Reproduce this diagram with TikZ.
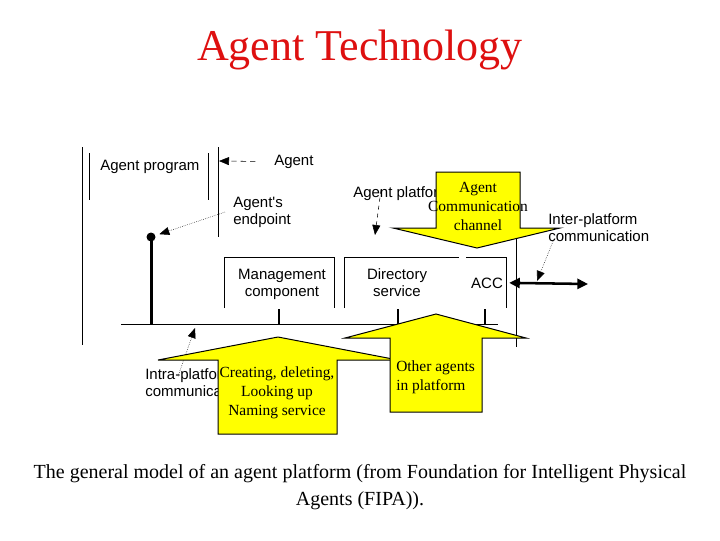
\documentclass[tikz,border=0pt]{standalone}
\usepackage{fontspec}
\setmainfont{Liberation Serif}
\newfontfamily\arialfont{Liberation Sans}
\usetikzlibrary{arrows.meta}

\definecolor{titlered}{RGB}{222,16,16}
\definecolor{arrowyellow}{RGB}{255,255,0}

\tikzset{
  lbl/.style={font=\arialfont\fontsize{11.25}{12.5}\selectfont, inner sep=0pt},
  yellowtxt/.style={font=\fontsize{11.6}{14}\selectfont, inner sep=0pt},
  bigarrow/.style={draw=black, fill=arrowyellow, line width=0.75pt},
  pointer/.style={densely dotted, -{Triangle[length=7.5pt,width=6pt]}},
  agentptr/.style={dash pattern=on 4pt off 3pt, -{Triangle[length=7.5pt,width=6pt]}},
  tick/.style={line width=1.5pt}
}

\begin{document}
\begin{tikzpicture}[x=0.75pt,y=0.75pt,yscale=-1,xscale=1]
    \useasboundingbox (0,0) rectangle (720,540);

    % Text Node
    \draw (360,60) node (title) [font=\fontsize{33}{38}\selectfont, text=titlered, anchor=base] {Agent Technology};

    %Shape: Frame lines
    \draw (82.7,147) -- (82.7,345);
    \draw (89,153) -- (89,200);
    \draw (208,153) -- (208,200);
    \draw (218,147) -- (218,237);
    %Shape: Management box
    \draw (224,308) -- (224,257) -- (334,257) -- (334,308);
    %Shape: Directory box
    \draw (344,308) -- (344,257) -- (459,257);
    \draw (466,257) -- (506,257) -- (506,308);
    \draw (516,238) -- (516,347);
    %Shape: Bus
    \draw (121,324) -- (498,324);
    \draw[tick] (279,309) -- (279,324);
    \draw[tick] (398,309) -- (398,324);
    \draw[tick] (485,309) -- (485,324);
    \draw (151,237) node (endpt) [circle, fill=black, inner sep=0pt, minimum size=6.75pt] {};
    \draw[line width=2.25pt] (endpt.center) -- (151,324);

    % Text Node
    \draw (100,170) node (agentprog) [lbl, anchor=base west] {Agent program};
    % Text Node
    \draw (274,165) node (agent) [lbl, anchor=base west] {Agent};
    % Text Node
    \draw (233,224) node (endptlbl) [lbl, align=left, anchor=base west] {Agent's\\endpoint};
    % Text Node
    \draw (353,197) node (platlbl) [lbl, anchor=base west] {Agent platform};
    % Text Node
    \draw (282,296) node (mgmt) [lbl, align=center, anchor=base] {Management\\component};
    % Text Node
    \draw (397,296) node (dirsvc) [lbl, align=center, anchor=base] {Directory\\service};
    % Text Node
    \draw (487,288) node (acc) [lbl, anchor=base] {ACC};
    % Text Node
    \draw (548,241) node (interlbl) [lbl, align=left, anchor=base west] {Inter-platform\\communication};
    % Text Node
    \draw (145,396) node (intralbl) [lbl, align=left, anchor=base west] {Intra-platform\\communication};

    \coordinate (agenttip) at (219,161);
    \coordinate (plattip) at (375,235);
    \coordinate (intertip) at (537,281);
    \coordinate (intratip) at (195,328);
    \coordinate (interend) at (588,284);

    \draw[agentptr] ([xshift=-14pt]agent.west) -- (agenttip);
    \draw[pointer, shorten >=3pt] ([xshift=-6pt]endptlbl.west) -- (endpt);
    \draw[pointer, dashed] ([shift={(21pt,-8pt)}]platlbl.south west) -- (plattip);
    \draw[pointer] ([xshift=3.75pt]interlbl.south west) -- (intertip);
    \draw[pointer] ([shift={(24.75pt,6pt)}]intralbl.north west) -- (intratip);
    \draw[line width=1.9pt, {Triangle[length=8pt,width=7.5pt]}-{Triangle[length=8pt,width=7.5pt]}] ([xshift=4.5pt]acc.east) -- (interend);

    %Shape: Down Arrow
    \draw[bigarrow] (436,172) -- (520,172) -- (520,228) -- (560,228) -- (477,248) -- (393,228) -- (436,228) -- cycle;
    % Text Node
    \draw (478,230) node (acctxt) [yellowtxt, align=center, anchor=base] {Agent\\Communication\\channel};

    %Shape: Up Arrow
    \draw[bigarrow] (218,434) -- (218,360) -- (158,360) -- (278,337) -- (398,360) -- (337,360) -- (337,434) -- cycle;
    % Text Node
    \draw (277,415) node (naming) [yellowtxt, align=center, anchor=base] {Creating, deleting,\\Looking up\\Naming service};

    %Shape: Up Arrow
    \draw[bigarrow] (390,412) -- (390,338) -- (345,338) -- (436,314) -- (526,338) -- (482,338) -- (482,412) -- cycle;
    % Text Node
    \draw (396,390) node (others) [yellowtxt, align=left, anchor=base west] {Other agents\\in platform};

    % Text Node
    \draw (360,505) node (caption) [font=\fontsize{15}{20.25}\selectfont, align=center, anchor=base] {The general model of an agent platform (from Foundation for Intelligent Physical\\Agents (FIPA)).};

\end{tikzpicture}
\end{document}
